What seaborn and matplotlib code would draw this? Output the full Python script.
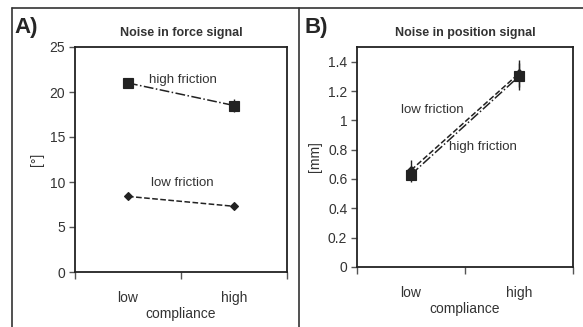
import numpy as np
import pandas as pd
import matplotlib
matplotlib.use("Agg")
import matplotlib.pyplot as plt
from matplotlib.lines import Line2D
import seaborn as sns

# data
compliance = ["low", "high"]
frictions = ["high friction", "low friction"]

force_high = [21.0, 18.5]
force_high_err = [0.6, 0.7]
force_low = [8.4, 7.3]
force_low_err = [0.2, 0.2]

pos_high = [0.63, 1.30]
pos_high_err = [0.05, 0.09]
pos_low = [0.66, 1.32]
pos_low_err = [0.07, 0.09]

force_yticks = [0, 5, 10, 15, 20, 25]
pos_yticks = [0, 0.2, 0.4, 0.6, 0.8, 1.0, 1.2, 1.4]
pos_yticklabels = ["0", "0.2", "0.4", "0.6", "0.8", "1", "1.2", "1.4"]

sns.set_theme(style="white")
plt.rcParams["font.family"] = ["Liberation Sans", "DejaVu Sans"]
INK = "#222222"


def make_frame(vals_high, vals_low):
    return pd.DataFrame({
        "compliance": compliance * 2,
        "friction": [frictions[0]] * 2 + [frictions[1]] * 2,
        "value": list(vals_high) + list(vals_low),
    })


def draw_panel(ax, vals_high, err_high, vals_low, err_low, ylim, yticks, yticklabels,
               ylabel, title):
    df = make_frame(vals_high, vals_low)
    sns.pointplot(data=df, x="compliance", y="value", hue="friction",
                  order=compliance, hue_order=frictions, palette=[INK, INK],
                  markers=["s", "D"], linestyles=["-.", "--"], errorbar=None,
                  linewidth=1.1, legend=False, ax=ax)
    for ln in ax.lines:
        if ln.get_marker() == "s":
            ln.set_markersize(7)
        elif ln.get_marker() == "D":
            ln.set_markersize(4.5)
    ax.errorbar([0, 1], vals_high, yerr=err_high, fmt="none", ecolor=INK, elinewidth=1)
    ax.errorbar([0, 1], vals_low, yerr=err_low, fmt="none", ecolor=INK, elinewidth=1)
    ax.set_xlim(-0.5, 1.5)
    ax.set_ylim(*ylim)
    ax.set_yticks(yticks)
    ax.set_yticklabels(yticklabels, fontsize=10, color="#333333")
    ax.set_xticks([0, 1])
    ax.set_xticklabels(compliance, fontsize=10, color="#333333")
    ax.set_xticks([-0.5, 0.5, 1.5], minor=True)
    ax.tick_params(axis="x", which="major", length=0, pad=14)
    ax.tick_params(axis="x", which="minor", length=5, width=1, color="#555555",
                   direction="out", bottom=True)
    ax.tick_params(axis="y", length=4, width=1, color="#555555", direction="out",
                   left=True, pad=3)
    ax.set_xlabel("compliance", fontsize=10, labelpad=1, color="#333333")
    ax.set_ylabel(ylabel, fontsize=10, labelpad=4, color="#333333")
    ax.set_title(title, fontsize=9, fontweight="bold", pad=8, color="#333333")
    for sp in ax.spines.values():
        sp.set_color(INK)
        sp.set_linewidth(1.3)
        sp.set_visible(True)


fig = plt.figure(figsize=(5.83, 3.27), dpi=100)
W, H = 583, 327
ax_a = fig.add_axes([75 / W, 1 - 272 / H, (287 - 75) / W, (272 - 47) / H])
ax_b = fig.add_axes([357 / W, 1 - 267 / H, (573 - 357) / W, (267 - 47) / H])

draw_panel(ax_a, force_high, force_high_err, force_low, force_low_err,
           (0, 25), force_yticks, [str(t) for t in force_yticks],
           "[°]", "Noise in force signal")
draw_panel(ax_b, pos_high, pos_high_err, pos_low, pos_low_err,
           (0, 1.5), pos_yticks, pos_yticklabels,
           "[mm]", "Noise in position signal")

note_kw = dict(fontsize=9.5, va="center", color="#333333")
ax_a.text(0.2, 21.3, "high friction", ha="left", **note_kw)
ax_a.text(0.51, 9.9, "low friction", ha="center", **note_kw)
ax_b.text(0.2, 1.07, "low friction", ha="center", **note_kw)
ax_b.text(0.67, 0.82, "high friction", ha="center", **note_kw)

panel_kw = dict(fontsize=16, fontweight="bold", va="center", ha="left",
                family=["Liberation Sans Narrow", "Liberation Sans", "DejaVu Sans"])
fig.text(14 / W, 1 - 28 / H, "A)", **panel_kw)
fig.text(305 / W, 1 - 28 / H, "B)", **panel_kw)

# outer frame lines
frame_kw = dict(color="#333333", linewidth=1.2, transform=fig.transFigure)
fig.add_artist(Line2D([12 / W, 12 / W], [0, 1 - 8 / H], **frame_kw))
fig.add_artist(Line2D([12 / W, 1], [1 - 8 / H, 1 - 8 / H], **frame_kw))
fig.add_artist(Line2D([299 / W, 299 / W], [0, 1 - 8 / H], **frame_kw))

fig.savefig("out.png", dpi=100)
